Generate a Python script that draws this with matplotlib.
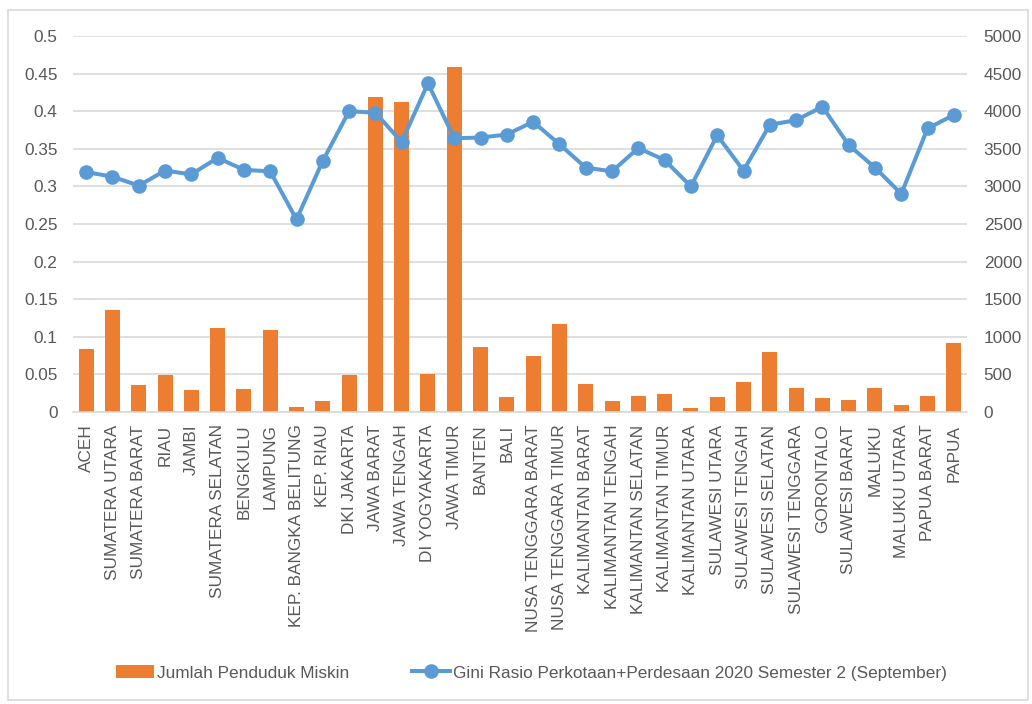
import numpy as np
import matplotlib
matplotlib.use("Agg")
import matplotlib.pyplot as plt
from matplotlib.patches import Rectangle

provinsi = ["ACEH", "SUMATERA UTARA", "SUMATERA BARAT", "RIAU", "JAMBI",
            "SUMATERA SELATAN", "BENGKULU", "LAMPUNG", "KEP. BANGKA BELITUNG",
            "KEP. RIAU", "DKI JAKARTA", "JAWA BARAT", "JAWA TENGAH",
            "DI YOGYAKARTA", "JAWA TIMUR", "BANTEN", "BALI",
            "NUSA TENGGARA BARAT", "NUSA TENGGARA TIMUR", "KALIMANTAN BARAT",
            "KALIMANTAN TENGAH", "KALIMANTAN SELATAN", "KALIMANTAN TIMUR",
            "KALIMANTAN UTARA", "SULAWESI UTARA", "SULAWESI TENGAH",
            "SULAWESI SELATAN", "SULAWESI TENGGARA", "GORONTALO",
            "SULAWESI BARAT", "MALUKU", "MALUKU UTARA", "PAPUA BARAT", "PAPUA"]

# jumlah penduduk miskin (ribu jiwa), right axis
miskin = [833, 1356, 364, 491, 288, 1119, 306, 1091, 72, 142, 497, 4188,
          4120, 503, 4586, 858, 197, 746, 1173, 370, 141, 207, 244, 53,
          196, 399, 800, 317, 185, 159, 322, 87, 215, 912]

# gini rasio, left axis
gini = [0.319, 0.313, 0.301, 0.321, 0.316, 0.338, 0.322, 0.320, 0.256,
        0.334, 0.400, 0.398, 0.359, 0.437, 0.364, 0.365, 0.369, 0.386,
        0.356, 0.325, 0.320, 0.351, 0.335, 0.300, 0.368, 0.321, 0.382,
        0.388, 0.406, 0.355, 0.325, 0.290, 0.377, 0.395]

orange = '#ED7D31'
blue = '#5B9BD5'
grey = '#595959'
fs = 12.4
plt.rcParams['font.family'] = ['Liberation Sans', 'DejaVu Sans']

fig = plt.figure(figsize=(10.32, 7.04), dpi=100)
fig.add_artist(Rectangle((8/1032, 4/704), 1020/1032, 690/704,
                         transform=fig.transFigure, fill=False,
                         edgecolor='#D9D9D9', linewidth=1.2))

ax = fig.add_axes([73/1032, 1 - 412/704, (967 - 73)/1032, (412 - 36)/704])
ax2 = ax.twinx()
x = np.arange(len(provinsi))

# bars on the right axis
bars = ax.bar(x, miskin, width=0.57, color=orange, zorder=2,
              label='Jumlah Penduduk Miskin')
ax.set_ylim(0, 5000)
ax.set_yticks(np.arange(0, 5001, 500))
ax.grid(axis='y', color='#D9D9D9', linewidth=1.2, zorder=0)
ax.set_axisbelow(True)
ax.set_xlim(-0.5, len(provinsi) - 0.5)
ax.set_xticks(x)
ax.set_xticklabels(provinsi, rotation=90)
for s in ['top', 'left', 'right']:
    ax.spines[s].set_visible(False)
ax.spines['bottom'].set_color('#D9D9D9')
ax.spines['bottom'].set_linewidth(1.2)
ax.tick_params(axis='x', length=0, pad=9, labelsize=fs, labelcolor=grey)
ax.tick_params(axis='y', length=0, pad=12, labelsize=fs, labelcolor=grey,
               left=False, labelleft=False, right=True, labelright=True)

# line on the left axis
line, = ax2.plot(x, gini, color=blue, linewidth=2.9, marker='o',
                 markersize=9.5, zorder=3,
                 label='Gini Rasio Perkotaan+Perdesaan 2020 Semester 2 (September)')
ax2.set_ylim(0, 0.5)
ax2.set_yticks(np.arange(0, 0.501, 0.05))
ax2.set_yticklabels(['0', '0.05', '0.1', '0.15', '0.2', '0.25', '0.3',
                     '0.35', '0.4', '0.45', '0.5'])
ax2.tick_params(axis='y', length=0, pad=11, labelsize=fs, labelcolor=grey,
                left=True, labelleft=True, right=False, labelright=False)
for s in ax2.spines.values():
    s.set_visible(False)

fig.legend([bars, line], [bars.get_label(), line.get_label()],
           loc='center', bbox_to_anchor=(0.515, 1 - 673/704), ncol=2,
           frameon=False, fontsize=fs, labelcolor=grey,
           handlelength=2.2, handletextpad=0.2, columnspacing=3.6)

fig.savefig('out.png', dpi=100)
